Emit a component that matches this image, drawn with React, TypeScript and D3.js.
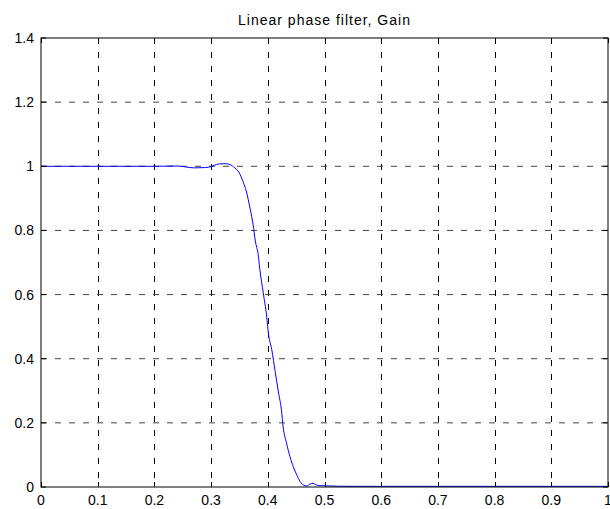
import React, { useEffect, useRef } from "react";
import * as d3 from "d3";

// Normalised frequency (x) and gain (y) of the linear phase filter
const freq = [
  0, 0.05, 0.1, 0.15, 0.2, 0.24, 0.255, 0.27, 0.29, 0.3, 0.31, 0.32, 0.327,
  0.333, 0.342, 0.351, 0.357, 0.362, 0.369, 0.374, 0.378, 0.383, 0.386, 0.392,
  0.398, 0.401, 0.407, 0.413, 0.419, 0.424, 0.427, 0.433, 0.439, 0.445, 0.451,
  0.457, 0.463, 0.469, 0.474, 0.48, 0.486, 0.495, 0.55, 0.7, 1.0,
];
const gain = [
  1.0, 1.0, 1.0, 1.0, 1.0, 1.001, 0.998, 0.995, 0.996, 0.999, 1.006, 1.008,
  1.008, 1.005, 0.995, 0.975, 0.949, 0.923, 0.866, 0.819, 0.767, 0.725, 0.678,
  0.605, 0.532, 0.48, 0.428, 0.36, 0.293, 0.241, 0.188, 0.137, 0.095, 0.063,
  0.038, 0.017, 0.006, 0.003, 0.009, 0.011, 0.006, 0.004, 0.002, 0.002, 0.002,
];

const xTicks = [0, 0.1, 0.2, 0.3, 0.4, 0.5, 0.6, 0.7, 0.8, 0.9, 1];
const yTicks = [0, 0.2, 0.4, 0.6, 0.8, 1, 1.2, 1.4];
const title = "Linear phase filter, Gain";

const W = 610;
const H = 509;
const M = { left: 41, right: 2, top: 38, bottom: 22 };

export default function App() {
  const ref = useRef<SVGSVGElement | null>(null);

  useEffect(() => {
    const svg = d3.select(ref.current);
    svg.selectAll("*").remove();

    const x = d3.scaleLinear().domain([0, 1]).range([M.left, W - M.right]);
    const y = d3.scaleLinear().domain([0, 1.4]).range([H - M.bottom, M.top]);
    const font = "Liberation Sans, Arial, Helvetica, sans-serif";

    svg.append("rect").attr("width", W).attr("height", H).attr("fill", "#fff");

    // dashed grid
    const grid = svg.append("g").attr("stroke", "#000").attr("stroke-width", 1)
      .attr("stroke-dasharray", "6,8").attr("fill", "none");
    xTicks.slice(1, -1).forEach((t) => {
      const px = Math.round(x(t)) + 0.5;
      grid.append("line").attr("x1", px).attr("x2", px)
        .attr("y1", y(1.4)).attr("y2", y(0));
    });
    yTicks.slice(1, -1).forEach((t) => {
      const py = y(t);
      grid.append("line").attr("x1", x(0)).attr("x2", x(1))
        .attr("y1", py).attr("y2", py).attr("stroke", "#444");
    });

    // gain curve
    const pts = freq.map((f, i) => [f, gain[i]] as [number, number]);
    const line = d3.line<[number, number]>()
      .x((d) => x(d[0]))
      .y((d) => y(d[1]))
      .curve(d3.curveMonotoneX);
    svg.append("path").attr("d", line(pts) as string)
      .attr("fill", "none").attr("stroke", "#0000ff").attr("stroke-width", 1);

    // frame
    svg.append("rect")
      .attr("x", x(0)).attr("y", y(1.4))
      .attr("width", x(1) - x(0)).attr("height", y(0) - y(1.4))
      .attr("fill", "none").attr("stroke", "#000").attr("stroke-width", 1);

    // inward ticks on all four sides
    const tk = 5;
    const ticks = svg.append("g").attr("stroke", "#000").attr("stroke-width", 1);
    xTicks.forEach((t) => {
      const px = Math.round(x(t)) + 0.5;
      ticks.append("line").attr("x1", px).attr("x2", px).attr("y1", y(0)).attr("y2", y(0) - tk);
      ticks.append("line").attr("x1", px).attr("x2", px).attr("y1", y(1.4)).attr("y2", y(1.4) + tk);
    });
    yTicks.forEach((t) => {
      const py = y(t);
      ticks.append("line").attr("x1", x(0)).attr("x2", x(0) + tk).attr("y1", py).attr("y2", py);
      ticks.append("line").attr("x1", x(1)).attr("x2", x(1) - tk).attr("y1", py).attr("y2", py);
    });

    // tick labels
    const lab = svg.append("g").attr("font-family", font).attr("font-size", 14).attr("fill", "#000");
    xTicks.forEach((t) => {
      lab.append("text").attr("x", x(t)).attr("y", y(0) + 18)
        .attr("text-anchor", "middle").text(d3.format("")(t));
    });
    yTicks.forEach((t) => {
      lab.append("text").attr("x", x(0) - 7).attr("y", y(t) + 5)
        .attr("text-anchor", "end").text(d3.format("")(t));
    });

    svg.append("text").attr("x", (x(0) + x(1)) / 2).attr("y", 25)
      .attr("text-anchor", "middle").attr("font-family", font).attr("font-size", 14)
      .attr("letter-spacing", 1)
      .text(title);
  }, []);

  return (
    <svg ref={ref} width={W} height={H}
      style={{ position: "absolute", left: 0, top: 0, display: "block" }} />
  );
}
